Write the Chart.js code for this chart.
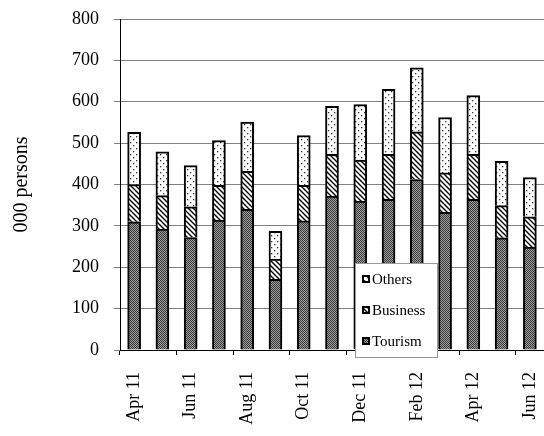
<!DOCTYPE html>
<html>
<head>
<meta charset="utf-8">
<script src="https://cdn.jsdelivr.net/npm/chart.js@4/dist/chart.umd.min.js"></script>
<style>
  html, body { margin: 0; padding: 0; background: #fff; }
  #wrap { width: 544px; height: 436px; position: relative; }
</style>
</head>
<body>
<div id="wrap"><canvas id="chart"></canvas></div>
<script>
// Visitor arrivals, thousands of persons
const months = ['Apr 11', 'May 11', 'Jun 11', 'Jul 11', 'Aug 11', 'Sep 11', 'Oct 11', 'Nov 11',
                'Dec 11', 'Jan 12', 'Feb 12', 'Mar 12', 'Apr 12', 'May 12', 'Jun 12'];
const tourism  = [310, 292, 272, 314, 340, 171, 312, 372, 360, 364, 412, 333, 364, 271, 249];
const business = [90, 81, 74, 84, 92, 49, 86, 101, 99, 109, 115, 95, 109, 78, 73];
const others   = [126, 106, 100, 108, 119, 67, 120, 116, 134, 157, 155, 134, 142, 107, 95];
const yTicks   = [0, 100, 200, 300, 400, 500, 600, 700, 800];

const SERIF = "'Liberation Serif', 'DejaVu Serif', serif";

// motifs en noir et blanc (style Excel)
function makePattern(size, draw) {
  const c = document.createElement('canvas');
  c.width = size; c.height = size;
  const g = c.getContext('2d');
  g.fillStyle = '#fff';
  g.fillRect(0, 0, size, size);
  draw(g, size);
  return document.createElement('canvas').getContext('2d').createPattern(c, 'repeat');
}

const patTourism = makePattern(2, (g) => {
  g.fillStyle = '#3c3c3c'; g.fillRect(0, 0, 1, 1); g.fillRect(1, 1, 1, 1);
  g.fillStyle = '#9c9c9c'; g.fillRect(1, 0, 1, 1); g.fillRect(0, 1, 1, 1);
});
const patBusiness = makePattern(5, (g, s) => {
  g.strokeStyle = '#000'; g.lineWidth = 1.4;
  g.beginPath();
  g.moveTo(-1, -1); g.lineTo(s + 1, s + 1);
  g.moveTo(-1, s - 1); g.lineTo(1, s + 1);
  g.moveTo(s - 1, -1); g.lineTo(s + 1, 1);
  g.stroke();
});
const patOthers = makePattern(6, (g) => {
  g.fillStyle = '#333';
  g.fillRect(1, 1, 1.3, 1.3);
  g.fillRect(4, 4, 1.3, 1.3);
});

// légende dessinée dans la zone du graphique
const insideLegend = {
  id: 'insideLegend',
  afterDraw(chart) {
    const ctx = chart.ctx;
    const items = [['Others', patOthers], ['Business', patBusiness], ['Tourism', patTourism]];
    ctx.save();
    ctx.fillStyle = '#fff';
    ctx.fillRect(355, 263, 82, 94);
    ctx.strokeStyle = '#999';
    ctx.lineWidth = 1;
    ctx.strokeRect(355.5, 263.5, 82, 94);
    ctx.font = '15px ' + SERIF;
    ctx.textBaseline = 'middle';
    items.forEach(([name, pat], i) => {
      const y = 280 + i * 31;
      ctx.fillStyle = pat;
      ctx.fillRect(362, y - 5, 8, 8);
      ctx.strokeStyle = '#000';
      ctx.lineWidth = 2;
      ctx.strokeRect(363, y - 4, 6, 6);
      ctx.fillStyle = '#000';
      ctx.fillText(name, 372, y);
    });
    ctx.restore();
  }
};

const barStyle = { borderColor: '#000', borderWidth: 2, barThickness: 13 };

new Chart(document.getElementById('chart'), {
  type: 'bar',
  data: {
    labels: months,
    datasets: [
      { label: 'Tourism', data: tourism, backgroundColor: patTourism, ...barStyle },
      { label: 'Business', data: business, backgroundColor: patBusiness, ...barStyle },
      { label: 'Others', data: others, backgroundColor: patOthers, ...barStyle },
    ]
  },
  options: {
    responsive: true,
    maintainAspectRatio: false,
    animation: false,
    layout: { padding: { top: 19, right: 0, bottom: 0, left: 0 } },
    plugins: {
      legend: { display: false },
      tooltip: { enabled: false },
    },
    scales: {
      x: {
        stacked: true,
        grid: {
          offset: true,
          drawOnChartArea: false,
          tickLength: 5,
          color: (c) => (c.index % 2 === 0 ? '#000' : 'rgba(0,0,0,0)'),
        },
        border: { display: true, color: '#000', width: 1 },
        ticks: {
          autoSkip: false,
          minRotation: 90,
          maxRotation: 90,
          padding: 17,
          color: '#000',
          font: { family: SERIF, size: 18 },
          callback: (v, i) => (i % 2 === 0 ? months[i] : ''),
        },
        afterFit: (s) => { s.height = 86; s.paddingLeft = 0; s.paddingRight = 0; },
      },
      y: {
        stacked: true,
        min: 0,
        max: 800,
        afterBuildTicks: (s) => { s.ticks = yTicks.map(v => ({ value: v })); },
        grid: { color: '#808080', tickColor: '#808080', tickLength: 6 },
        border: { display: true, color: '#000', width: 1 },
        ticks: {
          padding: 15,
          color: '#000',
          font: { family: SERIF, size: 18 },
        },
        title: {
          display: true,
          text: '000 persons',
          color: '#000',
          font: { family: SERIF, size: 20, weight: 'normal' },
          padding: { top: 10, bottom: 0 },
        },
        afterFit: (s) => { s.width = 120; s.paddingTop = 0; s.paddingBottom = 0; },
      }
    }
  },
  plugins: [insideLegend]
});
</script>
</body>
</html>
